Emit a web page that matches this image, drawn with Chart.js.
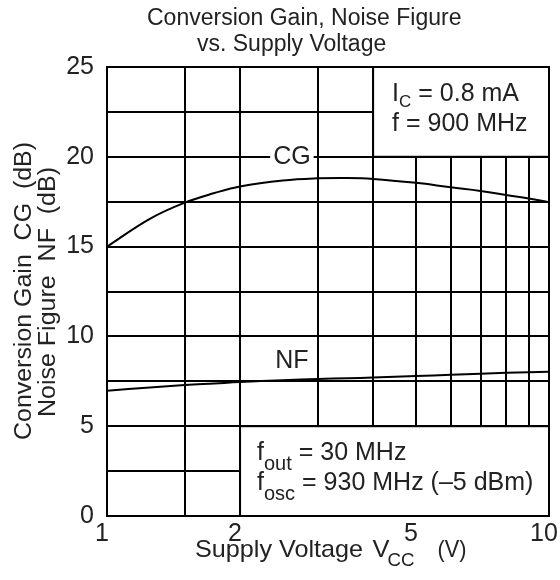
<!DOCTYPE html>
<html>
<head>
<meta charset="utf-8">
<script src="https://cdn.jsdelivr.net/npm/chart.js@4.4.1/dist/chart.umd.min.js"></script>
<style>
    html, body { margin: 0; padding: 0; background: #fff; }
    #wrap { width: 560px; height: 580px; }
</style>
</head>
<body>
<div id="wrap"><canvas id="gainChart" width="560" height="580"></canvas></div>
<script>
// values
const vcc = [1, 1.25, 1.5, 1.75, 2, 2.5, 3, 3.5, 4, 5, 6, 7, 8, 9, 10];
const cgValues = [15.0, 16.55, 17.45, 17.98, 18.35, 18.68, 18.8, 18.82, 18.77, 18.55, 18.3, 18.1, 17.87, 17.68, 17.47];
const nfValues = [6.98, 7.15, 7.29, 7.38, 7.46, 7.56, 7.63, 7.67, 7.71, 7.79, 7.86, 7.92, 7.97, 8.0, 8.03];

// axes
const xGridValues = [1, 1.5, 2, 3, 4, 5, 6, 7, 8, 9, 10];
const xTickLabels = [1, 2, 5, 10];
const yTickLabels = [0, 5, 10, 15, 20, 25];

const FONT = "'Liberation Sans', Arial, sans-serif";
const TEXT = "#222";

function font(size) {
    return size + "px " + FONT;
}

// draw pieces of text one after another, subscripts get dy
function drawRuns(ctx, runs, x, y) {
    ctx.textAlign = "left";
    ctx.textBaseline = "middle";
    runs.forEach(r => {
        ctx.font = font(r.size);
        ctx.fillText(r.t, x, y + (r.dy || 0));
        x += ctx.measureText(r.t).width;
    });
}

// text squeezed/stretched to a given length
function drawFit(ctx, text, cx, cy, size, len, angle) {
    ctx.save();
    ctx.translate(cx, cy);
    if (angle) ctx.rotate(angle);
    ctx.font = font(size);
    const w = ctx.measureText(text).width;
    ctx.scale(len / w, 1);
    ctx.textAlign = "center";
    ctx.textBaseline = "middle";
    ctx.fillText(text, 0, 0);
    ctx.restore();
}

const labelsPlugin = {
    id: "labels",
    afterDatasetsDraw(chart) {
        const ctx = chart.ctx;
        const xs = chart.scales.x;
        const ys = chart.scales.y;
        ctx.save();

        // condition boxes cover the grid
        ctx.lineWidth = 2;
        ctx.strokeStyle = "#000";
        ctx.fillStyle = "#fff";
        const boxes = [[4, 10, 20, 25], [2, 10, 0, 5]];
        boxes.forEach(b => {
            const l = xs.getPixelForValue(b[0]);
            const r = xs.getPixelForValue(b[1]);
            const t = ys.getPixelForValue(b[3]);
            const btm = ys.getPixelForValue(b[2]);
            ctx.fillRect(l, t, r - l, btm - t);
            ctx.strokeRect(l, t, r - l, btm - t);
        });

        ctx.fillStyle = TEXT;
        const tl = xs.getPixelForValue(4);
        drawRuns(ctx, [{ t: "I", size: 25 }, { t: "C", size: 17, dy: 8 }, { t: " = 0.8 mA", size: 25 }], tl + 19, 94);
        drawRuns(ctx, [{ t: "f = 900 MHz", size: 25 }], tl + 19, 124);

        const bl = xs.getPixelForValue(2);
        drawRuns(ctx, [{ t: "f", size: 25 }, { t: "out", size: 20, dy: 11 }, { t: " = 30 MHz", size: 25 }], bl + 17, 453);
        drawRuns(ctx, [{ t: "f", size: 25 }, { t: "osc", size: 20, dy: 11 }, { t: " = 930 MHz (\u20135 dBm)", size: 25 }], bl + 17, 483);

        // curve names
        ctx.font = font(25);
        ctx.textAlign = "center";
        ctx.textBaseline = "middle";
        const cx = xs.getPixelForValue(2.62);
        const cy = ys.getPixelForValue(20);
        const cw = ctx.measureText("CG").width;
        ctx.fillStyle = "#fff";
        ctx.fillRect(cx - cw / 2 - 3, cy - 5, cw + 6, 10);
        ctx.fillStyle = TEXT;
        ctx.fillText("CG", cx, cy);
        ctx.fillText("NF", xs.getPixelForValue(2.62), ys.getPixelForValue(8.6));

        ctx.restore();
    },
    afterDraw(chart) {
        const ctx = chart.ctx;
        ctx.save();
        ctx.fillStyle = TEXT;
        ctx.textAlign = "left";
        ctx.textBaseline = "middle";
        ctx.font = font(23);
        ctx.fillText("Conversion Gain, Noise Figure", 147, 19);
        ctx.fillText("vs. Supply Voltage", 197, 45);

        // y title, two lines
        drawFit(ctx, "Conversion Gain  CG  (dB)", 25, 291, 23, 298, -Math.PI / 2);
        drawFit(ctx, "Noise Figure  NF  (dB)", 49, 292, 23, 250, -Math.PI / 2);

        // x title with subscript
        drawFit(ctx, "Supply Voltage", 279, 550, 24, 168);
        drawFit(ctx, "V", 381, 550, 24, 17);
        drawFit(ctx, "CC", 401, 561, 19, 27);
        drawFit(ctx, "(V)", 452, 550, 24, 29);
        ctx.restore();
    }
};

const toPoints = ys => vcc.map((v, i) => ({ x: v, y: ys[i] }));

new Chart(document.getElementById("gainChart").getContext("2d"), {
    type: "line",
    data: {
        datasets: [
            {
                label: "CG",
                data: toPoints(cgValues),
                borderColor: "#000",
                borderWidth: 2,
                pointRadius: 0,
                fill: false,
                tension: 0.4
            },
            {
                label: "NF",
                data: toPoints(nfValues),
                borderColor: "#000",
                borderWidth: 2,
                pointRadius: 0,
                fill: false,
                tension: 0.4
            }
        ]
    },
    options: {
        responsive: false,
        animation: false,
        layout: { padding: { top: 67, right: 11, left: 0, bottom: 0 } },
        plugins: {
            legend: { display: false },
            title: { display: false },
            tooltip: { enabled: false }
        },
        scales: {
            x: {
                type: "logarithmic",
                min: 1,
                max: 10,
                afterBuildTicks: s => { s.ticks = xGridValues.map(v => ({ value: v })); },
                afterFit: s => { s.height = 64; s.paddingLeft = 0; s.paddingRight = 0; },
                ticks: {
                    autoSkip: false,
                    maxRotation: 0,
                    padding: 3,
                    labelOffset: -5,
                    color: TEXT,
                    font: { family: FONT, size: 25 },
                    callback: v => xTickLabels.includes(v) ? String(v) : ""
                },
                grid: { color: "#000", lineWidth: 2, drawTicks: false },
                border: { color: "#000", width: 2 }
            },
            y: {
                min: 0,
                max: 25,
                afterFit: s => { s.width = 107; s.paddingTop = 0; s.paddingBottom = 0; },
                ticks: {
                    stepSize: 2.5,
                    padding: 13,
                    color: TEXT,
                    font: { family: FONT, size: 25 },
                    callback: v => yTickLabels.includes(v) ? String(v) : ""
                },
                grid: { color: "#000", lineWidth: 2, drawTicks: false },
                border: { color: "#000", width: 2 }
            }
        }
    },
    plugins: [labelsPlugin]
});
</script>
</body>
</html>
